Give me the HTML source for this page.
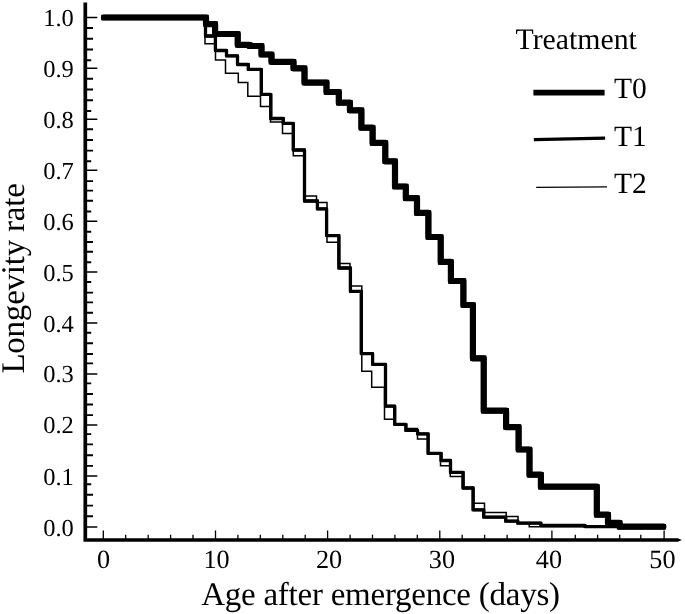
<!DOCTYPE html>
<html><head><meta charset="utf-8"><title>Longevity rate</title>
<style>
html,body{margin:0;padding:0;background:#fff;}
body{width:685px;height:614px;overflow:hidden;}
svg{display:block;}
text{font-family:"Liberation Serif",serif;fill:#000;text-rendering:geometricPrecision;}
.tk{font-size:24.5px;}
.tkx{font-size:26.2px;}
.ti{font-size:33px;}
.lg{font-size:29.5px;}
svg{filter:blur(0.3px);}
</style></head><body>
<svg width="685" height="614" viewBox="0 0 685 614">
<rect width="685" height="614" fill="#fff"/>
<g stroke="#000" fill="none">
<path d="M85.3 2.5 L85.3 540.0 L678 540.0" stroke-width="3.7" stroke-linejoin="miter"/>
<path d="M677.8 538.15 L681.9 540.00 L677.8 541.85 Z" fill="#000" stroke="none"/>
<path d="M85.3 526.9 H97.3 M85.3 475.9 H97.3 M85.3 425.0 H97.3 M85.3 374.0 H97.3 M85.3 323.1 H97.3 M85.3 272.1 H97.3 M85.3 221.2 H97.3 M85.3 170.3 H97.3 M85.3 119.3 H97.3 M85.3 68.3 H97.3 M85.3 17.4 H97.3" stroke-width="1.5"/>
<path d="M85.3 28.0 H93.0 M85.3 38.7 H93.0 M85.3 49.5 H93.0 M85.3 60.2 H91.2 M85.3 78.8 H93.0 M85.3 89.5 H93.0 M85.3 100.3 H93.0 M85.3 111.0 H91.2 M85.3 129.3 H93.0 M85.3 140.0 H93.0 M85.3 150.6 H93.0 M85.3 161.3 H91.2 M85.3 181.1 H93.0 M85.3 190.6 H93.0 M85.3 200.8 H93.0 M85.3 211.5 H91.2 M85.3 231.8 H91.2 M85.3 242.0 H93.0 M85.3 251.8 H93.0 M85.3 262.3 H91.2 M85.3 282.0 H91.2 M85.3 292.6 H93.0 M85.3 302.4 H93.0 M85.3 312.7 H93.0 M85.3 332.8 H91.2 M85.3 343.3 H93.0 M85.3 354.0 H93.0 M85.3 363.4 H93.0 M85.3 383.4 H91.2 M85.3 394.0 H93.0 M85.3 404.5 H93.0 M85.3 415.1 H93.0 M85.3 434.1 H91.2 M85.3 444.4 H93.0 M85.3 455.2 H93.0 M85.3 465.9 H93.0 M85.3 484.3 H91.2 M85.3 494.8 H93.0 M85.3 505.6 H93.0 M85.3 516.3 H93.0" stroke-width="1.9"/>
<path d="M103.3 540.0 V530.4 M125.7 540.0 V534.8 M148.2 540.0 V534.8 M170.6 540.0 V534.8 M193.0 540.0 V534.8 M215.5 540.0 V530.4 M237.9 540.0 V534.8 M260.3 540.0 V534.8 M282.8 540.0 V534.8 M305.2 540.0 V534.8 M327.6 540.0 V530.4 M350.1 540.0 V534.8 M372.5 540.0 V534.8 M394.9 540.0 V534.8 M417.3 540.0 V534.8 M439.8 540.0 V530.4 M462.2 540.0 V534.8 M484.6 540.0 V534.8 M507.1 540.0 V534.8 M529.5 540.0 V534.8 M551.9 540.0 V530.4 M575.3 540.0 V534.8 M597.6 540.0 V534.8 M619.7 540.0 V534.8 M640.8 540.0 V534.8 M664.1 540.0 V530.4" stroke-width="1.3"/>
</g>
<text class="tk" x="73.8" y="536.3" text-anchor="end">0.0</text>
<text class="tk" x="73.8" y="485.2" text-anchor="end">0.1</text>
<text class="tk" x="73.8" y="433.4" text-anchor="end">0.2</text>
<text class="tk" x="73.8" y="382.4" text-anchor="end">0.3</text>
<text class="tk" x="73.8" y="331.5" text-anchor="end">0.4</text>
<text class="tk" x="73.8" y="280.5" text-anchor="end">0.5</text>
<text class="tk" x="73.8" y="229.6" text-anchor="end">0.6</text>
<text class="tk" x="73.8" y="178.7" text-anchor="end">0.7</text>
<text class="tk" x="73.8" y="127.7" text-anchor="end">0.8</text>
<text class="tk" x="73.8" y="76.8" text-anchor="end">0.9</text>
<text class="tk" x="73.8" y="25.8" text-anchor="end">1.0</text>
<text class="tkx" x="103.5" y="567.8" text-anchor="middle">0</text>
<text class="tkx" x="216.6" y="567.8" text-anchor="middle">10</text>
<text class="tkx" x="329.0" y="567.8" text-anchor="middle">20</text>
<text class="tkx" x="441.9" y="567.8" text-anchor="middle">30</text>
<text class="tkx" x="548.9" y="567.8" text-anchor="middle">40</text>
<text class="tkx" x="662.4" y="567.8" text-anchor="middle">50</text>
<text class="ti" x="201.2" y="605" textLength="358.8" lengthAdjust="spacing">Age after emergence (days)</text>
<text class="ti" transform="translate(24.3 373.6) rotate(-90)" textLength="190.4" lengthAdjust="spacing">Longevity rate</text>
<text class="lg" x="515.5" y="48.5" style="font-size:29.8px">Treatment</text>
<text class="lg" x="614" y="97.9">T0</text>
<text class="lg" x="614" y="145.9">T1</text>
<text class="lg" x="614" y="193.3">T2</text>
<g stroke="#000" fill="none">
<path d="M533.4 92.7 H604.6" stroke-width="5.8"/>
<path d="M533.9 139.6 L605.1 138.2" stroke-width="3.2"/>
<path d="M536.2 187.4 L607 186.9" stroke-width="1.2"/>
</g>
<g stroke="#000" fill="none" stroke-linejoin="miter">
<path d="M205.0 17.5 L205.0 43.7 L215.5 43.7 L215.5 59.9 L225.5 59.9 L225.5 73.2 L238.3 73.2 L238.3 82.4 L247.8 82.4 L247.8 96.2 L260.5 96.2 L260.5 106.5 L270.5 106.5 L270.5 122.0 L282.5 122.0 L282.5 133.4 L293.3 133.4 L293.3 155.7 L304.5 155.7 L304.5 196.0 L316.5 196.0 L316.5 202.4 L327.0 202.4 L327.0 242.3 L338.5 242.3 L338.5 263.4 L350.0 263.4 L350.0 285.9 L361.8 285.9 L361.8 371.3 L371.7 371.3 L371.7 387.3 L384.5 387.3 L384.5 419.3 L394.5 419.3 L394.5 424.3 L405.7 424.3 L405.7 428.5 L417.5 428.5 L417.5 439.1 L428.0 439.1 L428.0 453.5 L440.5 453.5 L440.5 465.7 L450.3 465.7 L450.3 476.6 L462.5 476.6 L462.5 488.0 L473.5 488.0 L473.5 503.2 L484.5 503.2 L484.5 512.4 L506.2 512.4 L506.2 516.4 L518.0 516.4 L518.0 523.0 L529.2 523.0 L529.2 526.7 L663.0 526.7" stroke-width="1.5"/>
<path d="M205.5 17.5 L205.5 36.0 L215.4 36.0 L215.4 50.5 L226.5 50.5 L226.5 55.9 L237.5 55.9 L237.5 64.5 L248.3 64.5 L248.3 69.4 L261.3 69.4 L261.3 94.4 L270.8 94.4 L270.8 118.5 L283.3 118.5 L283.3 123.4 L293.3 123.4 L293.3 150.0 L304.5 150.0 L304.5 201.0 L317.4 201.0 L317.4 208.9 L326.6 208.9 L326.6 235.7 L338.9 235.7 L338.9 268.0 L350.4 268.0 L350.4 291.3 L361.3 291.3 L361.3 353.7 L372.6 353.7 L372.6 364.3 L385.5 364.3 L385.5 406.2 L394.7 406.2 L394.7 424.3 L405.9 424.3 L405.9 430.4 L417.6 430.4 L417.6 433.8 L428.1 433.8 L428.1 453.3 L441.1 453.3 L441.1 460.5 L450.5 460.5 L450.5 472.4 L463.1 472.4 L463.1 488.0 L473.1 488.0 L473.1 509.8 L483.7 509.8 L483.7 517.1 L505.7 517.1 L505.7 521.2 L517.8 521.2 L517.8 523.2 L540.9 523.2 L540.9 525.5 L584.9 525.5 L584.9 526.6 L663.0 526.6" stroke-width="3.3" stroke-linejoin="round"/>
<path d="M205.5 17.5 L205.5 36.0 L215.4 36.0 L215.4 50.5 L226.5 50.5 L226.5 55.9 L237.5 55.9 L237.5 64.5 L248.3 64.5 L248.3 69.4 L261.3 69.4 L261.3 94.4 L270.8 94.4 L270.8 118.5 L283.3 118.5 L283.3 123.4 L293.3 123.4 L293.3 150.0 L304.5 150.0 L304.5 201.0 L317.4 201.0 L317.4 208.9 L326.6 208.9 L326.6 235.7 L338.9 235.7 L338.9 268.0 L350.4 268.0 L350.4 291.3 L361.3 291.3 L361.3 353.7 L372.6 353.7 L372.6 364.3 L385.5 364.3 L385.5 406.2 L394.7 406.2 L394.7 424.3 L405.9 424.3 L405.9 430.4 L417.6 430.4 L417.6 433.8 L428.1 433.8 L428.1 453.3 L441.1 453.3 L441.1 460.5 L450.5 460.5 L450.5 472.4 L463.1 472.4 L463.1 488.0 L473.1 488.0 L473.1 509.8 L483.7 509.8 L483.7 517.1 L505.7 517.1 L505.7 521.2 L517.8 521.2 L517.8 523.2 L540.9 523.2 L540.9 525.5 L584.9 525.5 L584.9 526.6 L663.0 526.6" stroke-width="2.8"/>
<path d="M104.0 17.5 L206.0 17.5 L206.0 24.1 L215.1 24.1 L215.1 34.0 L237.7 34.0 L237.7 44.8 L249.6 44.8 L249.6 46.0 L261.5 46.0 L261.5 54.5 L271.5 54.5 L271.5 61.8 L293.5 61.8 L293.5 68.3 L304.5 68.3 L304.5 82.6 L326.5 82.6 L326.5 92.0 L338.8 92.0 L338.8 102.7 L349.9 102.7 L349.9 110.3 L361.4 110.3 L361.4 127.7 L372.6 127.7 L372.6 142.9 L385.3 142.9 L385.3 161.3 L395.0 161.3 L395.0 186.5 L405.8 186.5 L405.8 198.2 L417.0 198.2 L417.0 212.9 L428.4 212.9 L428.4 237.0 L440.7 237.0 L440.7 261.9 L450.9 261.9 L450.9 281.0 L463.4 281.0 L463.4 305.0 L472.9 305.0 L472.9 358.3 L483.7 358.3 L483.7 410.7 L506.1 410.7 L506.1 427.1 L518.6 427.1 L518.6 449.5 L529.5 449.5 L529.5 474.7 L540.9 474.7 L540.9 486.7 L596.8 486.7 L596.8 514.7 L608.0 514.7 L608.0 522.9 L619.6 522.9 L619.6 526.7 L663.3 526.7" stroke-width="6.2" stroke-linecap="round" stroke-linejoin="round"/>
<path d="M104.0 17.5 L206.0 17.5 L206.0 24.1 L215.1 24.1 L215.1 34.0 L237.7 34.0 L237.7 44.8 L249.6 44.8 L249.6 46.0 L261.5 46.0 L261.5 54.5 L271.5 54.5 L271.5 61.8 L293.5 61.8 L293.5 68.3 L304.5 68.3 L304.5 82.6 L326.5 82.6 L326.5 92.0 L338.8 92.0 L338.8 102.7 L349.9 102.7 L349.9 110.3 L361.4 110.3 L361.4 127.7 L372.6 127.7 L372.6 142.9 L385.3 142.9 L385.3 161.3 L395.0 161.3 L395.0 186.5 L405.8 186.5 L405.8 198.2 L417.0 198.2 L417.0 212.9 L428.4 212.9 L428.4 237.0 L440.7 237.0 L440.7 261.9 L450.9 261.9 L450.9 281.0 L463.4 281.0 L463.4 305.0 L472.9 305.0 L472.9 358.3 L483.7 358.3 L483.7 410.7 L506.1 410.7 L506.1 427.1 L518.6 427.1 L518.6 449.5 L529.5 449.5 L529.5 474.7 L540.9 474.7 L540.9 486.7 L596.8 486.7 L596.8 514.7 L608.0 514.7 L608.0 522.9 L619.6 522.9 L619.6 526.7 L663.3 526.7" stroke-width="5.5" stroke-linecap="square" stroke-linejoin="miter"/>
</g>
</svg></body></html>
